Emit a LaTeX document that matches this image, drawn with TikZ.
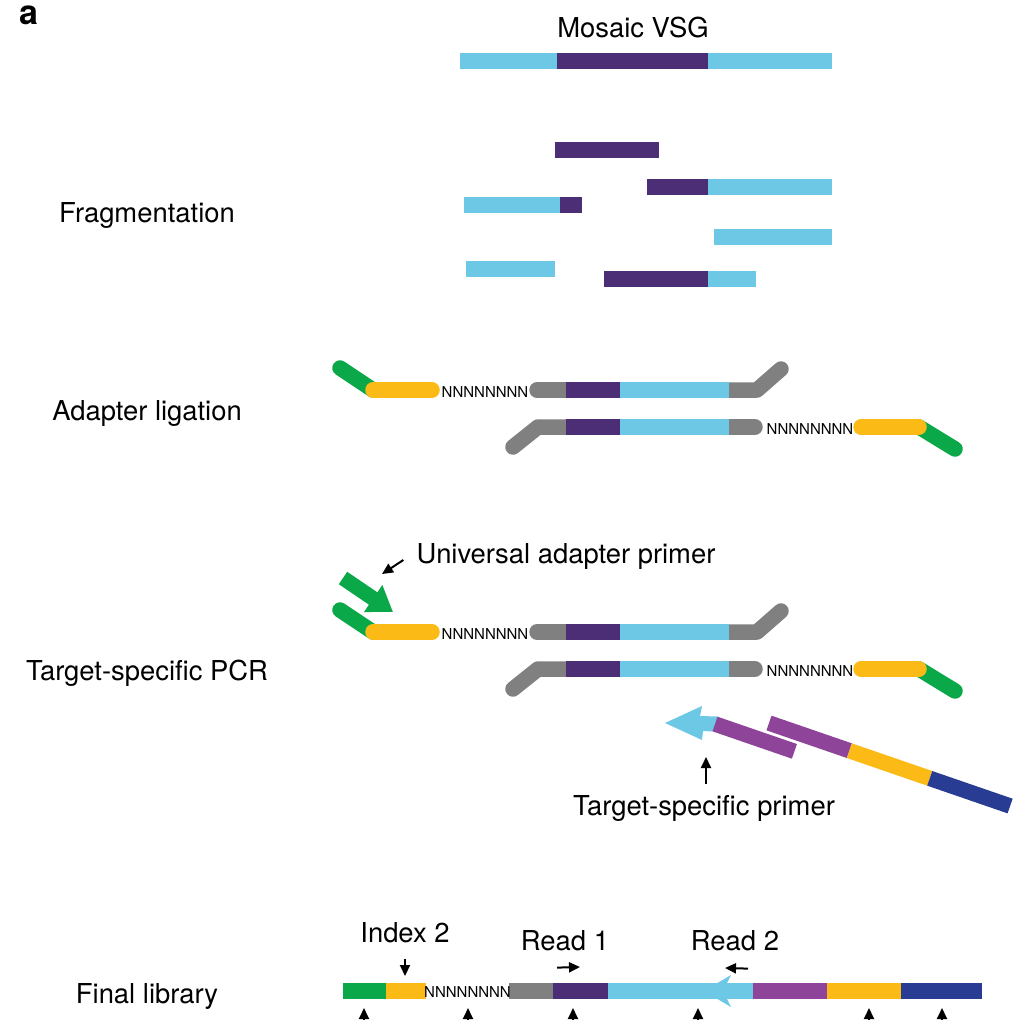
\documentclass[tikz,border=0pt]{standalone}
\usepackage{fontspec}
\setmainfont{TeX Gyre Heros}
\usetikzlibrary{arrows.meta,calc}
\definecolor{VSGLight}{HTML}{6DC8E6}
\definecolor{VSGDark}{HTML}{4B2E75}
\definecolor{AdGreen}{HTML}{0BA84A}
\definecolor{AdYellow}{HTML}{FBBA16}
\definecolor{AdGray}{HTML}{808080}
\definecolor{PrPurple}{HTML}{8E4499}
\definecolor{PrBlue}{HTML}{283C93}

\begin{document}
\begin{tikzpicture}[x=1pt, y=-1pt,
  every node/.style={font=\fontsize{27.4}{32}\selectfont, inner sep=0pt},
  lbl/.style={anchor=base},
  nfill/.style={anchor=base, font=\fontsize{15}{18}\selectfont},
  bar/.style={line width=15.5pt},
  capsule/.style={bar, line cap=round, line join=round},
  ptr/.style={-{Triangle[length=11pt, width=10pt]}, line width=2pt}
]
\useasboundingbox (0,0) rectangle (1020,1020);
\clip (0,0) rectangle (1020,1020);

\node[anchor=base west, font=\fontsize{34}{40}\selectfont\bfseries] (panel) at (19,24) {a};

%% Mosaic VSG on top
\node[lbl] (vsg) at (633,37) {Mosaic VSG};
\foreach \col/\xa/\xb in {VSGLight/460/557, VSGDark/557/708, VSGLight/708/832} {
  \draw[bar, \col] (\xa,61) -- (\xb,61);
}

%% Fragmentation -- pieces of the mosaic
\node[lbl] (frag) at (147,222) {Fragmentation};
\foreach \col/\xa/\xb/\yy in {VSGDark/555/659/150, VSGDark/647/708/187, VSGLight/708/832/187,
    VSGLight/464/560/205, VSGDark/560/582/205, VSGLight/714/832/237,
    VSGLight/466/555/269, VSGDark/604/708/279, VSGLight/708/756/279} {
  \draw[bar, \col] (\xa,\yy) -- (\xb,\yy);
}

%% Adapter-ligated duplex, drawn twice (ligation, PCR)
\node[lbl] (lig) at (147,420) {Adapter ligation};
\node[lbl] (pcr) at (147,680) {Target-specific PCR};
\foreach \dy [count=\k] in {0,242} {
  \begin{scope}[shift={(0,\dy)}]
    % top strand
    \draw[capsule, AdGreen] (340,368) -- (373,390);
    \draw[capsule, AdYellow] (373,390) -- (432,390);
    \node[nfill] (ntop\k) at (485,397) {NNNNNNNN};
    \draw[capsule, AdGray] (537,390) -- (570,390);
    \draw[capsule, AdGray] (720,390) -- (757,390) -- (781,369);
    \draw[bar, VSGDark] (566,390) -- (620,390);
    \draw[bar, VSGLight] (620,390) -- (729,390);
    % bottom strand
    \draw[capsule, AdGray] (513,447) -- (538,427) -- (570,427);
    \draw[capsule, AdGray] (720,427) -- (755,427);
    \draw[bar, VSGDark] (566,427) -- (620,427);
    \draw[bar, VSGLight] (620,427) -- (729,427);
    \node[nfill] (nbot\k) at (810,434) {NNNNNNNN};
    \draw[capsule, AdGreen] (919,427) -- (955,449);
    \draw[capsule, AdYellow] (861,427) -- (919,427);
  \end{scope}
}

%% Universal adapter primer
\draw[AdGreen, line width=15pt, -{Triangle[length=24pt, width=31pt]}] (343,578) -- (393,612);
\node[lbl] (uap) at (566,563) {Universal adapter primer};
\coordinate (uapTip) at (382,574);
\draw[ptr] ($(uap.base west)+(-13,-3)$) -- (uapTip);

%% Target-specific primer and the indexed adapter
\fill[VSGLight] (665,723) -- (702,706) -- (700,716) -- (718,716.5) -- (712.5,731.5) -- (703,731) -- (702,740) -- cycle;
\begin{scope}[shift={(715,724)}, rotate=-19]
  \draw[bar, PrPurple] (0,0) -- (84,0);
\end{scope}
\begin{scope}[shift={(769,723)}, rotate=-19]
  \draw[bar, PrPurple] (0,0) -- (85,0);
  \draw[bar, AdYellow] (85,0) -- (170,0);
  \draw[bar, PrBlue] (170,0) -- (255,0);
\end{scope}
\node[lbl] (tsp) at (704,815) {Target-specific primer};
\coordinate (tspTip) at (706,757);
\draw[ptr] ($(tsp.north)+(2,-11)$) -- (tspTip);

%% Final library
\node[lbl] (lib) at (147,1003) {Final library};
\foreach \col/\xa/\xb in {AdGreen/343/386, AdYellow/386/426, AdGray/509/553, VSGDark/553/608,
    VSGLight/608/753, PrPurple/753/827, AdYellow/827/901, PrBlue/901/982} {
  \draw[bar, \col] (\xa,991) -- (\xb,991);
}
\fill[VSGLight] (731,975) -- (704,991) -- (731,1007) -- (723,991) -- cycle;
\node[nfill] (nlib) at (467.5,997) {NNNNNNNN};

\node[lbl] (idx) at (405,942) {Index 2};
\coordinate (idxTip) at (405,976);
\draw[ptr] ($(idx.south)+(0,16)$) -- (idxTip);
\node[lbl] (rd1) at (565,950) {Read 1};
\coordinate (rd1Tip) at (580,967);
\draw[ptr] ($(rd1.south)+(-8,17)$) -- (rd1Tip);
\node[lbl] (rd2) at (735,950) {Read 2};
\coordinate (rd2Tip) at (725,968);
\draw[ptr] ($(rd2.south)+(13,18)$) -- (rd2Tip);

%% arrows running off the bottom edge
\foreach \x [count=\i] in {364,468,573,698,869,942} {
  \coordinate (cutFrom\i) at (\x,1040);
  \coordinate (cutTip\i) at (\x,1008);
  \draw[ptr] (cutFrom\i) -- (cutTip\i);
}
\end{tikzpicture}
\end{document}
